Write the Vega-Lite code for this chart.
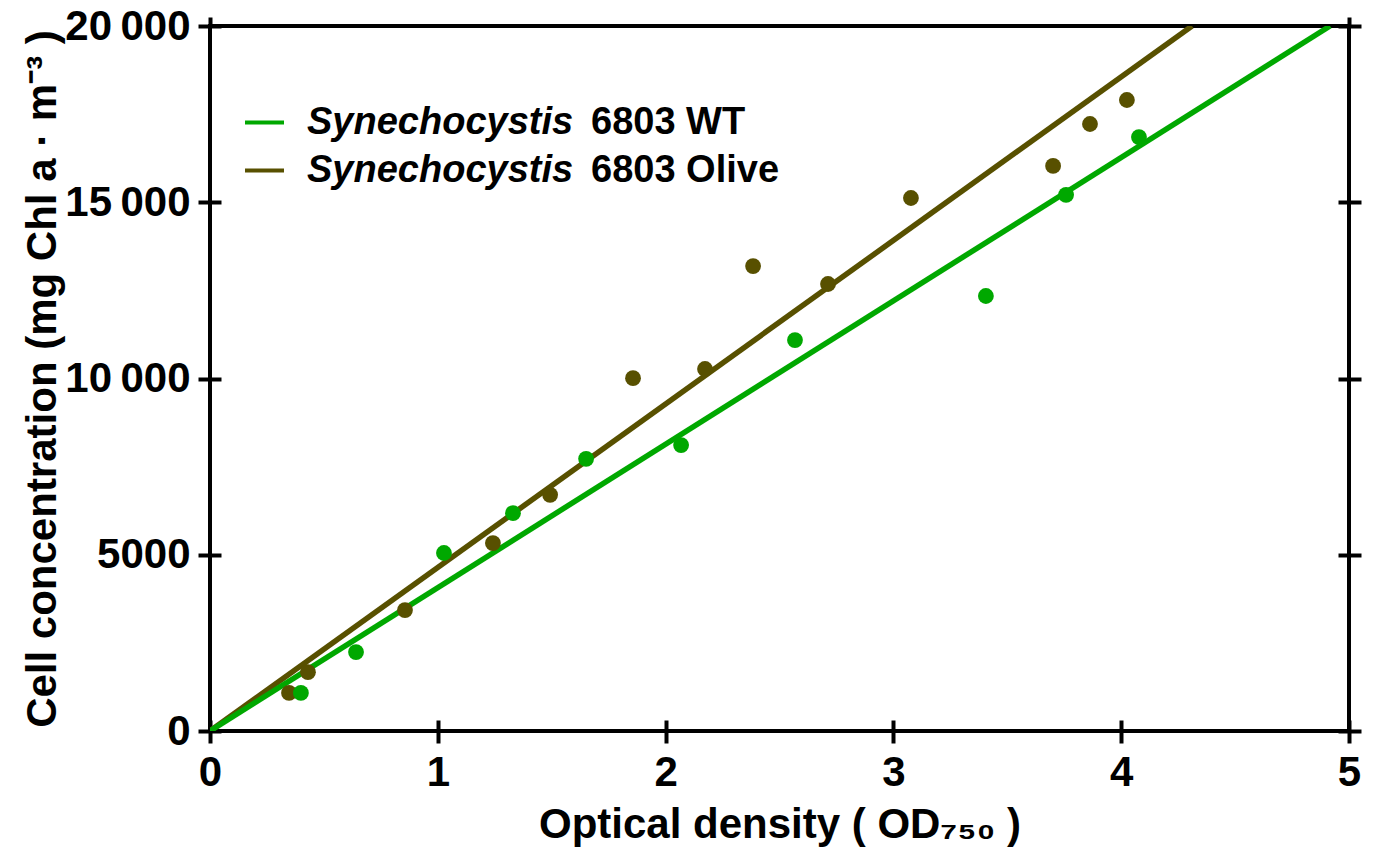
{
  "$schema": "https://vega.github.io/schema/vega-lite/v6.json",
  "width": 1139,
  "height": 705,
  "autosize": {"type": "none"},
  "padding": {"left": 210, "top": 26, "right": 24, "bottom": 118},
  "background": "white",
  "config": {
    "font": "Liberation Sans",
    "view": {"stroke": "black", "strokeWidth": 4},
    "axis": {
      "domain": false,
      "grid": false,
      "labelFlush": false,
      "tickColor": "black",
      "tickWidth": 4,
      "labelFont": "Liberation Sans",
      "labelFontWeight": "bold",
      "labelFontSize": 42,
      "labelColor": "black",
      "titleFont": "Liberation Sans",
      "titleFontWeight": "bold",
      "titleFontSize": 42,
      "titleColor": "black"
    },
    "legend": {
      "orient": "none",
      "title": null,
      "padding": 0,
      "labelFont": "Liberation Sans",
      "labelFontWeight": "bold",
      "labelFontSize": 38,
      "labelColor": "black",
      "labelLimit": 0,
      "symbolType": "stroke",
      "symbolSize": 1521,
      "symbolStrokeWidth": 4,
      "labelOffset": 21,
      "rowPadding": 7
    }
  },
  "datasets": {
    "fits": [
      {"series": "Olive", "od": 0, "chl": 0},
      {"series": "Olive", "od": 4.311, "chl": 20000},
      {"series": "WT", "od": 0, "chl": 0},
      {"series": "WT", "od": 4.917, "chl": 20000}
    ],
    "samples": [
      {"series": "Olive", "strain": "6803 Olive", "od": 0.347, "chl": 1080},
      {"series": "Olive", "strain": "6803 Olive", "od": 0.43, "chl": 1670},
      {"series": "Olive", "strain": "6803 Olive", "od": 0.856, "chl": 3430},
      {"series": "Olive", "strain": "6803 Olive", "od": 1.242, "chl": 5330},
      {"series": "Olive", "strain": "6803 Olive", "od": 1.493, "chl": 6700},
      {"series": "Olive", "strain": "6803 Olive", "od": 1.857, "chl": 10010},
      {"series": "Olive", "strain": "6803 Olive", "od": 2.173, "chl": 10270},
      {"series": "Olive", "strain": "6803 Olive", "od": 2.384, "chl": 13190},
      {"series": "Olive", "strain": "6803 Olive", "od": 2.713, "chl": 12680},
      {"series": "Olive", "strain": "6803 Olive", "od": 3.077, "chl": 15120},
      {"series": "Olive", "strain": "6803 Olive", "od": 3.701, "chl": 16030},
      {"series": "Olive", "strain": "6803 Olive", "od": 3.863, "chl": 17220},
      {"series": "Olive", "strain": "6803 Olive", "od": 4.025, "chl": 17900},
      {"series": "WT", "strain": "6803 WT", "od": 0.399, "chl": 1080},
      {"series": "WT", "strain": "6803 WT", "od": 0.641, "chl": 2240},
      {"series": "WT", "strain": "6803 WT", "od": 1.027, "chl": 5050},
      {"series": "WT", "strain": "6803 WT", "od": 1.33, "chl": 6180},
      {"series": "WT", "strain": "6803 WT", "od": 1.651, "chl": 7720},
      {"series": "WT", "strain": "6803 WT", "od": 2.068, "chl": 8110},
      {"series": "WT", "strain": "6803 WT", "od": 2.568, "chl": 11090},
      {"series": "WT", "strain": "6803 WT", "od": 3.406, "chl": 12340},
      {"series": "WT", "strain": "6803 WT", "od": 3.758, "chl": 15210},
      {"series": "WT", "strain": "6803 WT", "od": 4.078, "chl": 16850}
    ]
  },
  "layer": [
    {
      "data": {"name": "fits"},
      "mark": {"type": "line", "strokeWidth": 5.5, "clip": true},
      "encoding": {
        "x": {
          "field": "od",
          "type": "quantitative",
          "scale": {"domain": [0, 5], "nice": false, "zero": true},
          "axis": {"orient": "top", "values": [0, 5], "labels": false, "tickSize": 9, "title": null}
        },
        "y": {
          "field": "chl",
          "type": "quantitative",
          "scale": {"domain": [0, 20000], "nice": false},
          "axis": {"orient": "right", "values": [0, 5000, 10000, 15000, 20000], "labels": false, "tickSize": 23, "offset": -11, "title": null}
        },
        "color": {
          "field": "series",
          "type": "nominal",
          "scale": {"domain": ["WT", "Olive"], "range": ["#00a800", "#585000"]},
          "legend": {
            "labelExpr": "'Synechocystis'",
            "labelFontStyle": "italic",
            "legendX": 33,
            "legendY": 75
          }
        }
      }
    },
    {
      "data": {"name": "samples"},
      "mark": {"type": "point", "filled": true, "size": 250, "opacity": 1},
      "encoding": {
        "x": {
          "field": "od",
          "type": "quantitative",
          "scale": {"domain": [0, 5], "nice": false},
          "axis": {
            "orient": "bottom",
            "values": [0, 1, 2, 3, 4, 5],
            "tickSize": 23,
            "offset": -11,
            "labelPadding": 9,
            "title": "Optical density ( OD₇₅₀ )",
            "titlePadding": 11
          }
        },
        "y": {
          "field": "chl",
          "type": "quantitative",
          "scale": {"domain": [0, 20000], "nice": false},
          "axis": {
            "orient": "left",
            "values": [0, 5000, 10000, 15000, 20000],
            "tickSize": 23,
            "offset": -11,
            "labelPadding": 8,
            "labelExpr": "datum.value >= 10000 ? replace(format(datum.value, ','), ',', '\u2009') : format(datum.value, 'd')",
            "title": "Cell concentration (mg Chl a · m⁻³ )",
            "titlePadding": 0
          }
        },
        "color": {
          "field": "series",
          "type": "nominal",
          "scale": {"domain": ["WT", "Olive"], "range": ["#00a800", "#585000"]}
        },
        "shape": {
          "field": "strain",
          "type": "nominal",
          "scale": {"domain": ["6803 WT", "6803 Olive"], "range": ["circle", "circle"]},
          "legend": {
            "symbolOpacity": 0,
            "symbolStrokeColor": "transparent",
            "legendX": 317,
            "legendY": 75
          }
        }
      }
    }
  ],
  "resolve": {"axis": {"x": "independent", "y": "independent"}}
}
